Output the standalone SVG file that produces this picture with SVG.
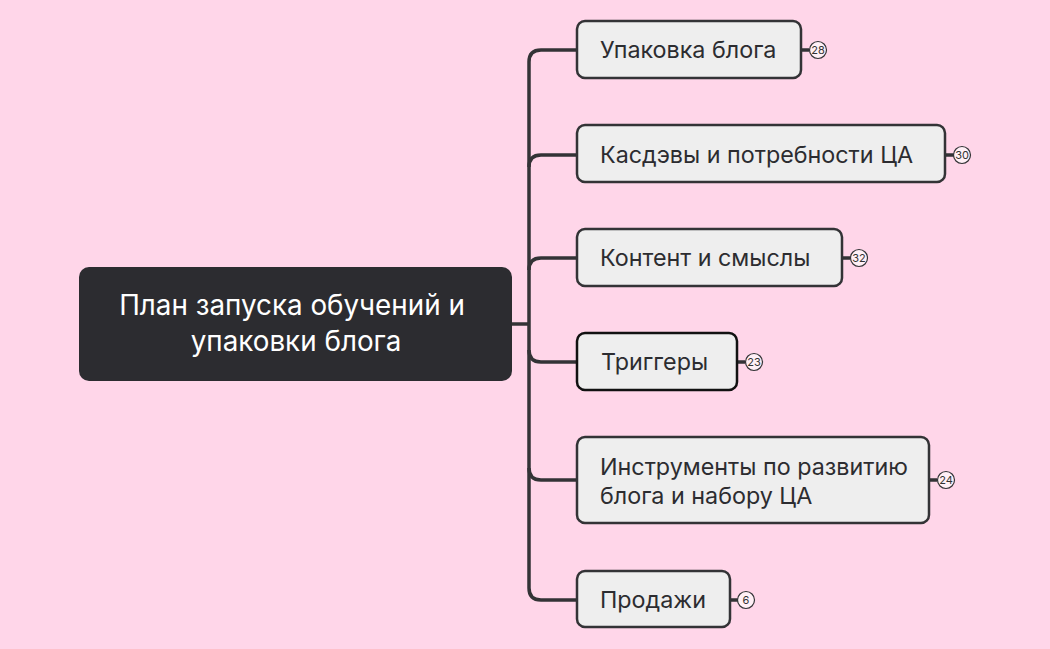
<svg xmlns="http://www.w3.org/2000/svg" width="1050" height="649" viewBox="0 0 1050 649">
<style>
.n rect{fill:#eeeeee;stroke:#333336;stroke-width:2.5}
.t{font-family:Inter,"Noto Sans",sans-serif;font-size:23.3px;fill:#2c2c30}
.b circle{fill:#fff0f6;stroke:#333336;stroke-width:1.2}
.b text{font-family:Inter,sans-serif;font-size:11px;fill:#333;text-anchor:middle}
.c path{fill:none;stroke:#333336;stroke-width:3.5}
</style>
<rect width="1050" height="649" fill="#ffd6e9"/>
<g class="c">
<path d="M512 324H529"/>
<path d="M577 50H541Q529 50 529 62V588Q529 600 541 600H577"/>
<path d="M577 155H541Q529 155 529 167"/>
<path d="M577 258H541Q529 258 529 270"/>
<path d="M577 362H541Q529 362 529 350"/>
<path d="M577 480H541Q529 480 529 468"/>
<path d="M801 50H809M945 155H954M842 258H850M737 362H745M929 480H937M730 600H738" stroke-width="2.5"/>
</g>
<g id="root"><rect x="79" y="267" width="433" height="114" rx="10" fill="#2c2c30"/>
<text x="292" y="315" text-anchor="middle" font-family="Inter,sans-serif" font-size="27.8" fill="#fff">План запуска обучений и</text>
<text x="296" y="351" text-anchor="middle" font-family="Inter,sans-serif" font-size="27.8" fill="#fff">упаковки блога</text></g>
<g id="n1" class="n"><rect x="577" y="21" width="224" height="57" rx="8"/><text class="t" x="600" y="58">Упаковка блога</text></g>
<g id="n2" class="n"><rect x="577" y="125" width="368" height="57" rx="8"/><text class="t" x="600" y="163">Касдэвы и потребности ЦА</text></g>
<g id="n3" class="n"><rect x="577" y="229" width="265" height="57" rx="8"/><text class="t" x="600" y="266">Контент и смыслы</text></g>
<g id="n4" class="n"><rect x="577" y="333" width="160" height="57" rx="8" style="stroke:#111"/><text class="t" x="601" y="370">Триггеры</text></g>
<g id="n5" class="n"><rect x="577" y="437" width="352" height="86" rx="8"/><text class="t" x="600" y="475">Инструменты по развитию</text><text class="t" x="600" y="504">блога и набору ЦА</text></g>
<g id="n6" class="n"><rect x="577" y="571" width="153" height="56" rx="8"/><text class="t" x="600" y="608">Продажи</text></g>
<g class="b">
<circle cx="818" cy="50" r="8.5"/><text x="818" y="54">28</text>
<circle cx="962" cy="155" r="8.5"/><text x="962" y="159">30</text>
<circle cx="859" cy="258" r="8.5"/><text x="859" y="262">32</text>
<circle cx="754" cy="362" r="8.5"/><text x="754" y="366">23</text>
<circle cx="946" cy="480" r="8.5"/><text x="946" y="484">24</text>
<circle cx="746" cy="600" r="8.5"/><text x="746" y="604">6</text>
</g>
</svg>
